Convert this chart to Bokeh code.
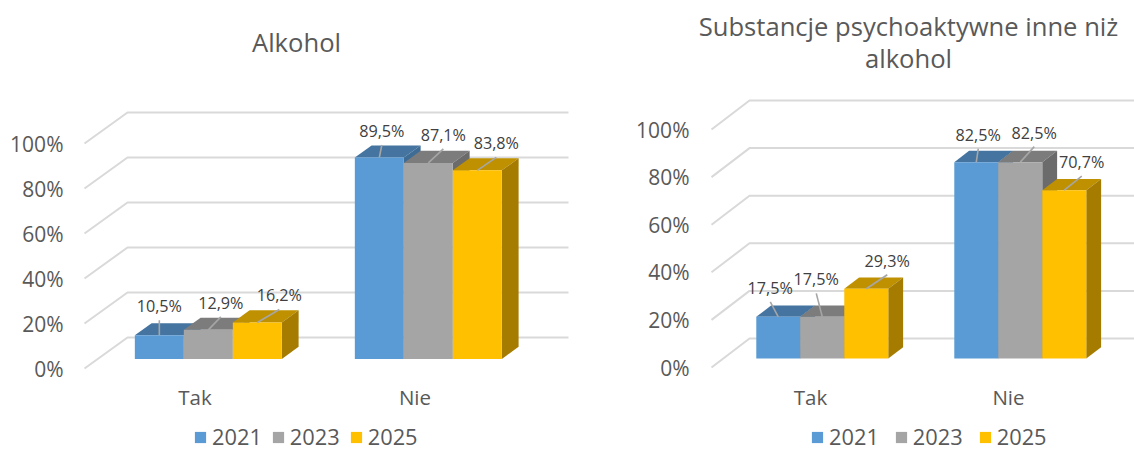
from bokeh.plotting import figure
from bokeh.layouts import row
from bokeh.models import Range1d, FixedTicker, PrintfTickFormatter, Label, Legend, LegendItem, ColumnDataSource, LinearAxis
from bokeh.embed import file_html
from bokeh.resources import INLINE

categories = ["Tak", "Nie"]
years = ["2021", "2023", "2025"]
ticks = [0, 20, 40, 60, 80, 100]

alkohol_2021 = [10.5, 89.5]
alkohol_2023 = [12.9, 87.1]
alkohol_2025 = [16.2, 83.8]

inne_2021 = [17.5, 82.5]
inne_2023 = [17.5, 82.5]
inne_2025 = [29.3, 70.7]

front_colors = ["#5B9BD5", "#A5A5A5", "#FFC000"]
top_colors = ["#44749F", "#7C7C7C", "#BF9000"]
side_colors = ["#3E6C95", "#6B6B6B", "#A67C00"]
GRID = "#D9D9D9"
TEXT = "#595959"
LABEL = "#404040"
FONT = "Open Sans"

D0, D1 = 0.31, 0.70  # bar depth span within the 3D floor


def chart(title, series, g, W, H=450):
    ox = g["ox"]
    ppc, ppy = g["ppc"], g["ppy"]
    wall_x = g["wall_x"]
    cx0, y0 = g["anchor"]
    dxd = g["dx"] / ppc
    dyd = g["dy"] / ppy
    bw = g["bw"] / ppc

    xr = Range1d((ox - cx0) / ppc, (ox + W - cx0) / ppc)
    yr = Range1d((y0 - H) / ppy, y0 / ppy)
    p = figure(width=W, height=H, x_range=xr, y_range=yr, toolbar_location=None,
               output_backend="svg", x_axis_location=None, y_axis_location=None,
               min_border_left=0, min_border_right=0, min_border_top=0, min_border_bottom=0)
    p.outline_line_color = None
    p.grid.visible = False

    xs0 = (wall_x - cx0) / ppc
    xax = LinearAxis(fixed_location=(y0 - g["axis_y"]) / ppy)
    p.add_layout(xax, "below")
    xax.ticker = FixedTicker(ticks=list(range(len(categories))))
    xax.major_label_overrides = {i: c for i, c in enumerate(categories)}
    yax = LinearAxis(fixed_location=xs0)
    p.add_layout(yax, "left")
    yax.ticker = FixedTicker(ticks=ticks)
    yax.formatter = PrintfTickFormatter(format="%d%%")
    for ax in (xax, yax):
        ax.axis_line_color = None
        ax.major_tick_line_color = None
        ax.minor_tick_line_color = None
        ax.major_tick_in = 0
        ax.major_tick_out = 0
        ax.major_label_text_font = FONT
        ax.major_label_text_color = TEXT
    xax.major_label_text_font_size = "20.5px"
    yax.major_label_text_font_size = "21px"
    yax.major_label_standoff = g["ystand"]
    xax.major_label_standoff = 0

    # walls: gridlines running along the back and down the side
    xe = (g["back_end"] - cx0) / ppc
    p.multi_line([[xs0, xs0 + dxd, xe] for _ in ticks],
                 [[v, v + dyd, v + dyd] for v in ticks],
                 line_color=GRID, line_width=2)

    items = []
    for s, vals in enumerate(series):
        xl = [c + dxd * D0 + (s - 1.5) * bw for c in range(len(vals))]
        xr_ = [x + bw for x in xl]
        base = [dyd * D0] * len(vals)
        top = [dyd * D0 + v for v in vals]
        dd = D1 - D0
        p.patches([[a, a + dxd * dd, b + dxd * dd, b] for a, b in zip(xl, xr_)],
                  [[t, t + dyd * dd, t + dyd * dd, t] for t in top],
                  fill_color=top_colors[s], line_color=None)
        p.patches([[b, b + dxd * dd, b + dxd * dd, b] for b in xr_],
                  [[t, t + dyd * dd, bb + dyd * dd, bb] for t, bb in zip(top, base)],
                  fill_color=side_colors[s], line_color=None)
        r = p.quad(left=xl, right=xr_, bottom=base, top=top, fill_color=front_colors[s], line_color=None)
        items.append(LegendItem(label=years[s], renderers=[r]))

    # data labels with leader lines
    for s, vals in enumerate(series):
        mid = [c + dxd * D0 + (s - 1) * bw for c in range(len(vals))]
        tops = [dyd * D0 + v for v in vals]
        ends = g["leaders"][s]
        ex = [m + e[0] / ppc for m, e in zip(mid, ends)]
        ey = [t + e[1] / ppy for t, e in zip(tops, ends)]
        p.segment(mid, tops, ex, ey, line_color="#A6A6A6", line_width=1.6)
        src = ColumnDataSource(dict(x=ex, y=ey, t=[f"{v:.1f}%".replace(".", ",") for v in vals]))
        p.text("x", "y", text="t", source=src, text_align="center", text_baseline="middle",
               y_offset=-14, text_font={"value": FONT}, text_font_size="16.2px", text_color=LABEL)

    leg = Legend(items=items, orientation="horizontal", location=g["legend"],
                 background_fill_alpha=0, border_line_color=None, padding=0, margin=0,
                 glyph_width=14, glyph_height=14, label_standoff=5, spacing=g["legend_gap"],
                 label_text_font=FONT, label_text_font_size="21.8px", label_text_color=TEXT)
    p.add_layout(leg, "center")

    tx, ty = g["title_at"]
    p.add_layout(Label(x=(tx - cx0) / ppc, y=(y0 - ty) / ppy, text=title, text_align="center",
                       text_baseline="top", text_font=FONT, text_font_size="25.6px", text_color=TEXT,
                       text_line_height=0.94))
    return p


left_geom = dict(ox=0, ppc=220, ppy=2.25, wall_x=84, anchor=(194.5, 368), axis_y=382,
                 dx=43, dy=31, bw=49, back_end=568, ystand=21,
                 legend=(193, -1), legend_gap=9, title_at=(296, 24),
                 leaders=[[(0, 15), (2.5, 12.5)], [(12.5, 13), (15, 14)], [(22, 13), (19, 13)]])
right_geom = dict(ox=590, ppc=198, ppy=2.38, wall_x=711, anchor=(810, 367), axis_y=382,
                  dx=38, dy=29, bw=44, back_end=1134, ystand=22,
                  legend=(220, -1), legend_gap=15, title_at=(908, 8),
                  leaders=[[(-8, 15), (2, 13.5)], [(-6, 23.5), (14, 15.5)], [(21, 14), (17.5, 14)]])

p1 = chart("Alkohol", [alkohol_2021, alkohol_2023, alkohol_2025], left_geom, 590)
p2 = chart("Substancje psychoaktywne inne niż\nalkohol", [inne_2021, inne_2023, inne_2025], right_geom, 544)

layout = row(p1, p2, spacing=0)
open("out.html", "w").write(file_html(layout, INLINE))
